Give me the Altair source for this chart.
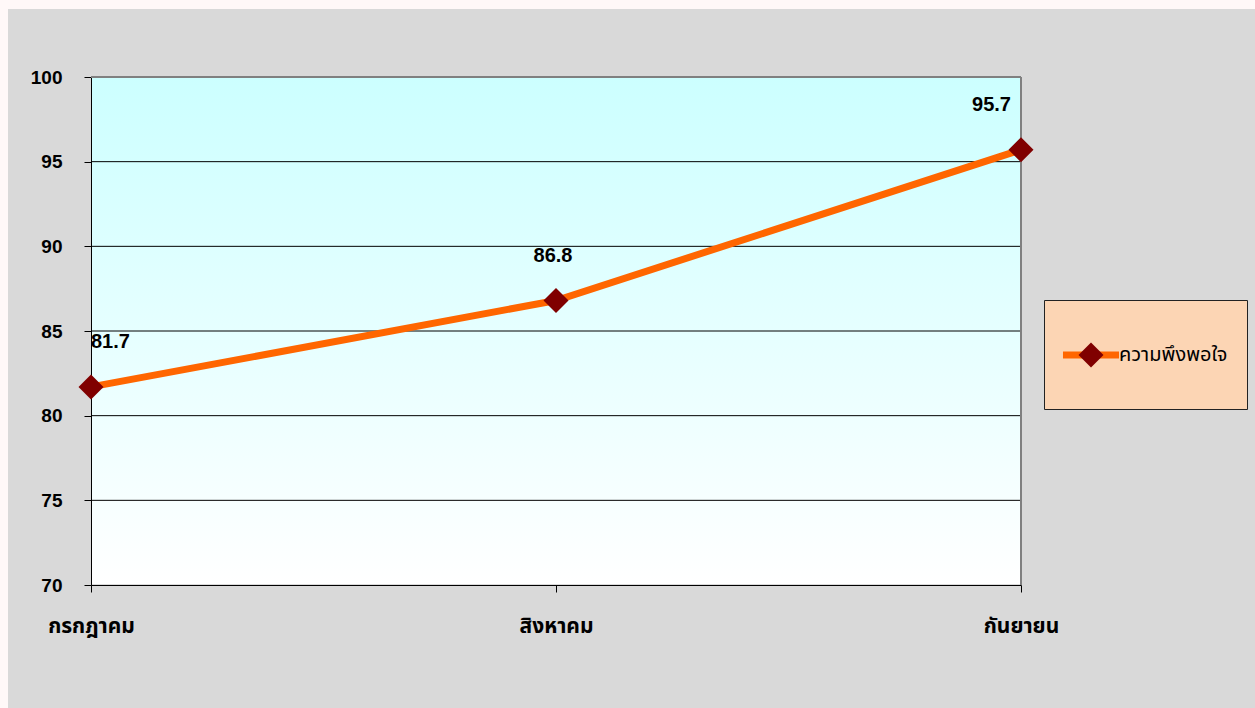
import altair as alt
import pandas as pd

# ---- data ----
months = ["กรกฎาคม", "สิงหาคม", "กันยายน"]
values = [81.7, 86.8, 95.7]
series_name = "ความพึงพอใจ"
y_ticks = [70, 75, 80, 85, 90, 95, 100]
grid_values = [75, 80, 85, 90, 95]

df = pd.DataFrame({
    "month": months,
    "value": values,
    "series": [series_name] * len(months),
    "name": [series_name] * len(months),
})
grid_df = pd.DataFrame({"value": grid_values})
top_df = pd.DataFrame({"value": [y_ticks[-1]]})
right_df = pd.DataFrame({"month": [months[-1]]})
one = pd.DataFrame({"k": [0]})

W, H = 930, 508
PAD = {"left": 91, "top": 77, "right": 234, "bottom": 123}
FONT = "Liberation Sans, Arial, Noto Sans, sans-serif"
THAI = "Noto Sans Thai, Noto Sans Thai UI, Leelawadee UI, Tahoma, Liberation Sans, sans-serif"

x_enc = alt.X(
    "month:N",
    sort=months,
    scale=alt.Scale(type="point", padding=0, domain=months),
    axis=alt.Axis(
        title=None, labelAngle=0, labelAlign="center", labelBaseline="top",
        ticks=True, tickSize=7, tickColor="black",
        domainColor="black", labelPadding=23, labelFontSize=21,
        labelFontWeight="bold", labelFont=THAI, labelColor="black", grid=False,
    ),
)
y_scale = alt.Scale(domain=[70, 100], nice=False, zero=False)
y_enc = alt.Y(
    "value:Q",
    scale=y_scale,
    axis=alt.Axis(
        title=None, values=y_ticks, tickSize=7, tickColor="black",
        domainColor="black", labelPadding=22, labelFontSize=19,
        labelFontWeight="bold", labelFont=FONT, labelColor="black", grid=False,
    ),
)

# decorative page strips (pinkish frame around grey chart area)
strip_top = alt.Chart(one).mark_rect(color="#fff8f8").encode(
    x=alt.value(-PAD["left"]), x2=alt.value(W + PAD["right"]),
    y=alt.value(-PAD["top"]), y2=alt.value(-PAD["top"] + 9),
)
strip_left = alt.Chart(one).mark_rect(color="#fff8f8").encode(
    x=alt.value(-PAD["left"]), x2=alt.value(-PAD["left"] + 8),
    y=alt.value(-PAD["top"]), y2=alt.value(H + PAD["bottom"]),
)

# gradient plot background
bg = alt.Chart(one).mark_rect(
    color=alt.LinearGradient(
        gradient="linear",
        stops=[alt.GradientStop(offset=0, color="#ccffff"),
               alt.GradientStop(offset=1, color="#ffffff")],
        x1=0, x2=0, y1=0, y2=1,
    )
).encode(x=alt.value(1), x2=alt.value("width"), y=alt.value(0), y2=alt.value(H - 1))

grid = alt.Chart(grid_df).mark_rule(color="black", strokeWidth=1).encode(
    y=alt.Y("value:Q", scale=y_scale)
)
top_border = alt.Chart(top_df).mark_rule(color="#808080", strokeWidth=2).encode(
    y=alt.Y("value:Q", scale=y_scale)
)
right_border = alt.Chart(right_df).mark_rule(color="#808080", strokeWidth=2).encode(
    x=alt.X("month:N", sort=months)
)

line = alt.Chart(df).mark_line(strokeWidth=7, strokeCap="round").encode(
    x=x_enc,
    y=y_enc,
    stroke=alt.Stroke(
        "series:N",
        scale=alt.Scale(range=["#ff6600"]),
        legend=alt.Legend(
            title=" ", titleOrient="bottom", titleFontSize=12, titlePadding=10,
            orient="none", legendX=953, legendY=223,
            fillColor="#fcd5b4", strokeColor="#222222", padding=19,
            symbolType="M-0.862,0L0.862,0", symbolSize=4225,
            symbolStrokeWidth=7, symbolOffset=alt.ExprRef(expr="-8"),
            labelOffset=alt.ExprRef(expr="-8"),
            labelFontSize=20, labelFont=THAI, labelColor="black",
            labelLimit=400, zindex=1,
        ),
    ),
)

points = alt.Chart(df).mark_point(
    shape="diamond", filled=True, size=625, opacity=1, strokeWidth=0
).encode(
    x=alt.X("month:N", sort=months),
    y=alt.Y("value:Q", scale=y_scale),
    fill=alt.Fill(
        "name:N",
        scale=alt.Scale(range=["#800000"]),
        legend=alt.Legend(
            title=None, orient="none", legendX=987.5, legendY=265.5,
            padding=0, symbolType="diamond", symbolSize=625,
            symbolStrokeWidth=0, labelExpr="''", labelFontSize=1, zindex=2,
        ),
    ),
)

def label_layer(month, align, dx):
    return alt.Chart(df).transform_filter(alt.datum.month == month).mark_text(
        align=align, baseline="middle", dx=dx, dy=-45, fontSize=20,
        fontWeight="bold", font=FONT, color="black",
    ).encode(
        x=alt.X("month:N", sort=months),
        y=alt.Y("value:Q", scale=y_scale),
        text=alt.Text("value:Q", format=".1f"),
    )

labels = [
    label_layer(months[0], "left", 0),
    label_layer(months[1], "center", -3),
    label_layer(months[2], "right", -10),
]

chart = alt.layer(
    strip_top, strip_left, bg, grid, top_border, right_border, line, points, *labels
).properties(
    width=W, height=H,
    padding=PAD,
    autosize=alt.AutoSizeParams(type="none"),
    background="#d9d9d9",
).configure_view(
    stroke="transparent"
)

chart.save("out.html", embed_options={"renderer": "svg", "actions": False})
